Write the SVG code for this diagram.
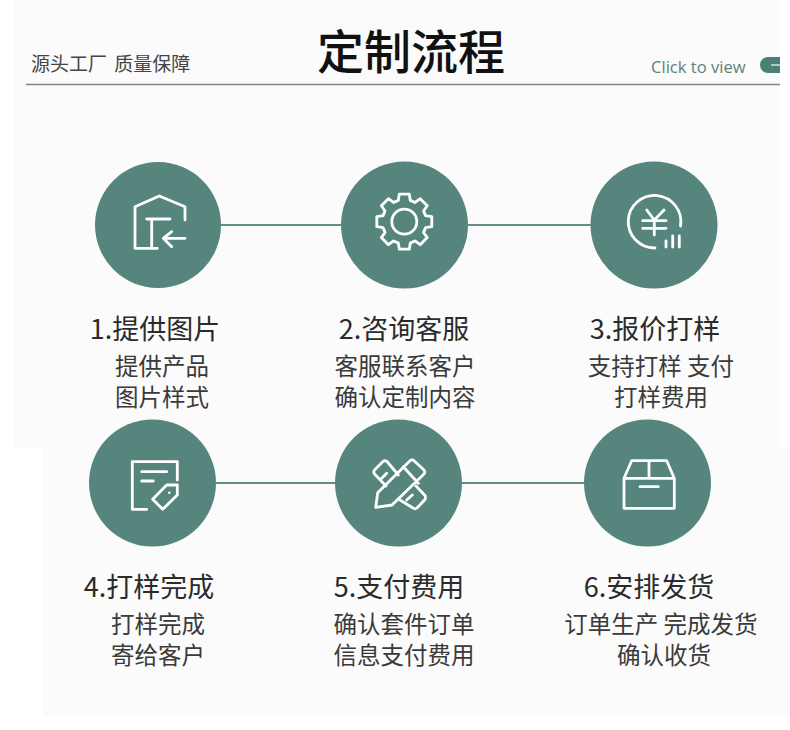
<svg xmlns="http://www.w3.org/2000/svg" width="790" height="730" viewBox="0 0 790 730">
<style>
.t{font-family:"Noto Sans CJK SC","Noto Sans",sans-serif}
.h{font-size:27px;fill:#2b2b2b;text-anchor:middle;font-family:"Noto Sans CJK SC","Noto Sans",sans-serif}
.s{font-size:23.5px;fill:#3a3a3a;text-anchor:middle;font-family:"Noto Sans CJK SC","Noto Sans",sans-serif}
.c{fill:#55857c}
.i{fill:none;stroke:#fff;stroke-width:2.8;stroke-linecap:round;stroke-linejoin:round}
.l{stroke:#5f8f86;stroke-width:2;fill:none}
</style>
<defs>
<path id="tooth" d="M-8.4-20.3L-6-21.2L-5-27.5L5-27.5L6-21.2L8.4-20.3"/>
</defs>
<rect width="790" height="730" fill="#fff"/>
<path d="M14 0H780V447H790V716H43V447H14Z" fill="#fbfbfb"/>
<g id="header">
<text x="31" y="71" class="t" font-size="19" word-spacing="3" fill="#444">源头工厂 质量保障</text>
<text x="317" y="69" class="t" font-size="47" font-weight="500" fill="#111">定制流程</text>
<text x="651" y="73" font-family="Open Sans,sans-serif" font-size="16.6" fill="#5f7f7a">Click to view</text>
<path d="M780 57H768A8 8 0 0 0 768 73H780Z" fill="#4a7f76"/>
<path d="M771 65H780" stroke="#dfe9e6" stroke-width="1.4"/>
<path d="M26 84.5H780" stroke="#808583" stroke-width="1.6"/>
</g>
<g id="connectors">
<path class="l" d="M221 225H341M468 225H591M216 483H335M462 483H585"/>
</g>
<g id="node1">
<circle class="c" cx="158" cy="225" r="63"/>
<path class="i" d="M185 220V206.7L159.3 196L135 206.7V248.3H157.3M146.7 219H170M151.7 219V248M163.3 238.3H185M171.7 231.7L163.3 238.3L171.7 246.7"/>
<text class="h" x="155" y="339">1.提供图片</text>
<text class="s" x="162" y="374.500">提供产品</text>
<text class="s" x="162" y="405.500">图片样式</text>
</g>
<g id="node2">
<circle class="c" cx="404.5" cy="225" r="63.5"/>
<g class="i" transform="translate(404.3 221.7)">
<use href="#tooth"/>
<use href="#tooth" transform="rotate(45)"/>
<use href="#tooth" transform="rotate(90)"/>
<use href="#tooth" transform="rotate(135)"/>
<use href="#tooth" transform="rotate(180)"/>
<use href="#tooth" transform="rotate(225)"/>
<use href="#tooth" transform="rotate(270)"/>
<use href="#tooth" transform="rotate(315)"/>
<circle r="12.5"/>
</g>
<text class="h" x="404" y="339">2.咨询客服</text>
<text class="s" x="405" y="374.500">客服联系客户</text>
<text class="s" x="405" y="405.500">确认定制内容</text>
</g>
<g id="node3">
<circle class="c" cx="654" cy="225" r="63.5"/>
<path class="i" d="M680.5 226A26.3 26.3 0 1 0 655 248M646.7 210L654.3 220L664 210M642.7 220.7H666M642.7 228.3H666M654.3 220V235M666 241V247M672.7 236V247M679.3 236V247"/>
<text class="h" x="655" y="339">3.报价打样</text>
<text class="s" x="661" y="374.500">支持打样 支付</text>
<text class="s" x="661" y="405.500">打样费用</text>
</g>
<g id="node4">
<circle class="c" cx="152.5" cy="483" r="63.5"/>
<path class="i" d="M146.7 509.3H132.3V461.7H177.3V480M141.7 471.7H166.7M141.7 481H153.3M177.3 485V495L162.7 509.3L152.7 499.3L166.7 485Z"/>
<circle cx="169.3" cy="492.7" r="1.3" fill="#fff"/>
<text class="h" x="149" y="597">4.打样完成</text>
<text class="s" x="158" y="632.500">打样完成</text>
<text class="s" x="158" y="663.500">寄给客户</text>
</g>
<g id="node5">
<circle class="c" cx="398.5" cy="483" r="63.5"/>
<path class="i" d="M375.7 507.3L377.7 492.7L410 460.7Q412 459 414 460.7L424 470Q425.5 472 424 474L392 505ZM403.3 466.7L418.3 483.3M398.3 475L387 461.5Q385 460 383 461.5L374.5 470Q373 472 374.5 474L386 486M381.7 478.3L386.7 473.3M416 486L425 495.5Q426 497.5 425 499.5L417 508Q415 509.5 413 508L400 500M406.7 500L412.3 495"/>
<text class="h" x="399" y="597">5.支付费用</text>
<text class="s" x="404" y="632.500">确认套件订单</text>
<text class="s" x="404" y="663.500">信息支付费用</text>
</g>
<g id="node6">
<circle class="c" cx="647.5" cy="483" r="63.5"/>
<path class="i" d="M624 478.3H674.3V508.3H624ZM624 478.3L631.7 460.7H666.7L674.3 478.3M649 460.7V478.3M640 486.7H658.3"/>
<text class="h" x="649" y="597">6.安排发货</text>
<text class="s" x="661" y="632.500">订单生产 完成发货</text>
<text class="s" x="664" y="663.500">确认收货</text>
</g>
</svg>
